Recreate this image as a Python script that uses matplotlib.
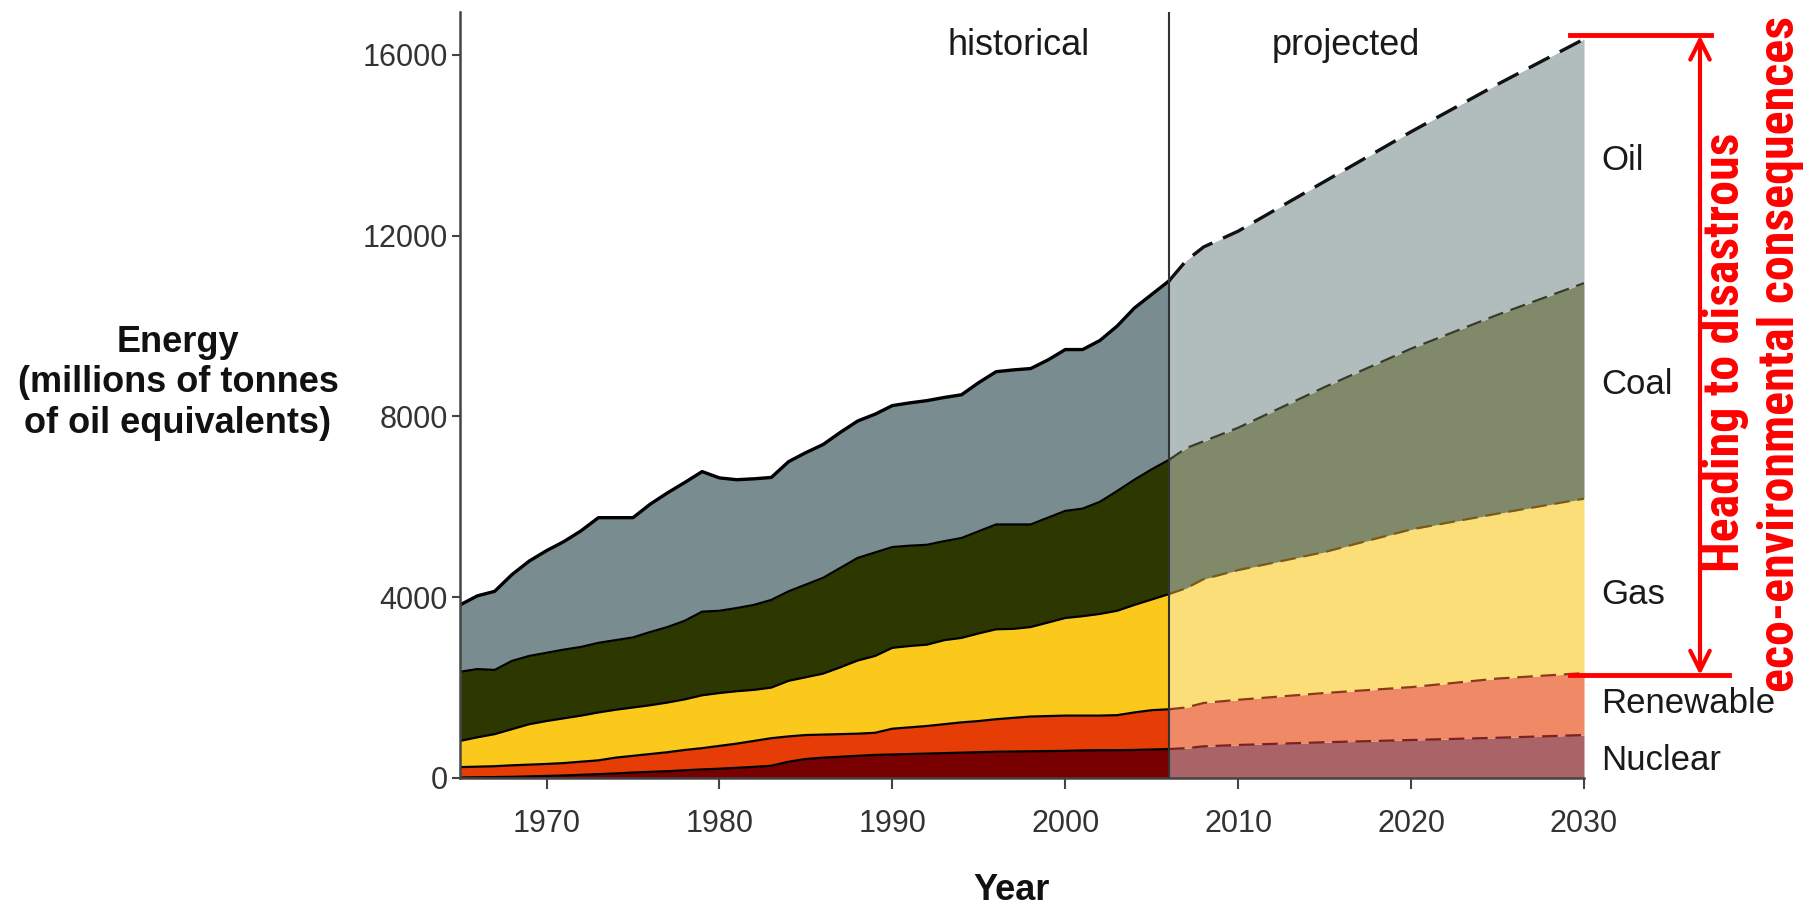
import numpy as np
import matplotlib
matplotlib.use("Agg")
from matplotlib import pyplot as plt
from matplotlib.lines import Line2D
import matplotlib.transforms as mtransforms

plt.rcParams['font.family'] = ['Liberation Sans', 'DejaVu Sans']

# historical data, cumulative tops of each layer (Mtoe)
years_hist = np.arange(1965, 2007)
nuclear_hist = [10, 15, 20, 25, 35, 45, 55, 70, 85, 100,
                120, 135, 150, 170, 190, 205, 225, 245, 270, 360,
                420, 450, 470, 490, 510, 520, 530, 540, 550, 560,
                570, 580, 585, 590, 595, 600, 610, 615, 615, 620,
                630, 640]
renew_top_hist = [240, 250, 260, 280, 295, 310, 330, 360, 390, 450,
                  490, 530, 570, 620, 660, 710, 760, 820, 880, 920,
                  950, 960, 970, 980, 1000, 1090, 1120, 1150, 1190, 1230,
                  1260, 1300, 1330, 1360, 1370, 1380, 1380, 1380, 1390, 1450,
                  1500, 1520]
gas_top_hist = [820, 900, 970, 1080, 1190, 1260, 1320, 1380, 1450, 1510,
                1560, 1610, 1670, 1740, 1830, 1880, 1920, 1950, 2000, 2150,
                2230, 2310, 2450, 2600, 2700, 2880, 2920, 2950, 3050, 3100,
                3200, 3290, 3300, 3340, 3440, 3540, 3580, 3630, 3700, 3830,
                3950, 4070]
coal_top_hist = [2350, 2410, 2390, 2590, 2700, 2770, 2840, 2900, 2990, 3050,
                 3110, 3230, 3340, 3480, 3680, 3700, 3760, 3830, 3940, 4130,
                 4280, 4430, 4650, 4870, 4990, 5110, 5140, 5160, 5240, 5310,
                 5460, 5610, 5610, 5610, 5760, 5910, 5960, 6110, 6350, 6600,
                 6830, 7040]
oil_top_hist = [3830, 4030, 4130, 4500, 4800, 5030, 5230, 5470, 5760, 5760,
                5760, 6060, 6310, 6540, 6780, 6640, 6600, 6620, 6650, 7000,
                7200, 7380, 7650, 7900, 8050, 8240, 8300, 8350, 8420, 8480,
                8750, 8990, 9030, 9060, 9250, 9480, 9480, 9680, 10000, 10400,
                10700, 11000]

# projection
years_proj = [2006, 2007, 2008, 2010, 2015, 2020, 2025, 2030]
nuclear_proj = [640, 660, 700, 730, 790, 840, 890, 950]
renew_top_proj = [1520, 1560, 1660, 1730, 1880, 2010, 2200, 2320]
gas_top_proj = [4070, 4200, 4400, 4600, 5000, 5500, 5850, 6180]
coal_top_proj = [7040, 7300, 7450, 7750, 8650, 9500, 10250, 10950]
oil_top_proj = [11000, 11450, 11750, 12100, 13200, 14300, 15350, 16350]

fuels = ['Nuclear', 'Renewable', 'Gas', 'Coal', 'Oil']
hist_colors = ['#780000', '#e63c05', '#fbc81c', '#2d3801', '#798c8f']
proj_colors = ['#aa6468', '#f08a66', '#fcde78', '#80896a', '#b1bcbd']
proj_edge = ['#7a2222', '#8a3a1a', '#7a5a18', '#3a3a2a', '#111111']
label_y = [380, 1640, 4050, 8700, 13660]

fig = plt.figure(figsize=(18.07, 9.08), dpi=100)
ax = fig.add_axes([0.2546, 0.1432, 0.6220, 0.8436])

h_bounds = [np.zeros(len(years_hist)), nuclear_hist, renew_top_hist,
            gas_top_hist, coal_top_hist, oil_top_hist]
p_bounds = [np.zeros(len(years_proj)), nuclear_proj, renew_top_proj,
            gas_top_proj, coal_top_proj, oil_top_proj]

for i in range(5):
    ax.fill_between(years_hist, h_bounds[i], h_bounds[i + 1],
                    color=hist_colors[i], lw=0)
    ax.plot(years_hist, h_bounds[i + 1], color='black',
            lw=2.4 if i == 4 else 1.6)
    ax.fill_between(years_proj, p_bounds[i], p_bounds[i + 1],
                    color=proj_colors[i], lw=0)
    ax.plot(years_proj, p_bounds[i + 1], color=proj_edge[i],
            lw=2.4 if i == 4 else 1.6, dashes=(7, 3.5))
    ax.text(2031, label_y[i], fuels[i], fontsize=25, color='#1a1a1a',
            va='center', ha='left', clip_on=False)

ax.axvline(2006, color='#333333', lw=1.5)

ax.text(1997.3, 16200, 'historical', fontsize=26, color='#1a1a1a',
        ha='center', va='center')
ax.text(2016.2, 16200, 'projected', fontsize=26, color='#1a1a1a',
        ha='center', va='center')

ax.set_xlim(1965, 2030)
ax.set_ylim(0, 16950)
ax.set_xticks([1970, 1980, 1990, 2000, 2010, 2020, 2030])
ax.set_yticks([0, 4000, 8000, 12000, 16000])
ax.tick_params(labelsize=22, labelcolor='#333333', color='#444444',
               width=1.5)
ax.tick_params(axis='x', length=8, pad=14)
ax.tick_params(axis='y', length=6, pad=3)
for s in ['top', 'right']:
    ax.spines[s].set_visible(False)
for s in ['left', 'bottom']:
    ax.spines[s].set_color('#444444')
    ax.spines[s].set_linewidth(1.8)

fig.text(178 / 1807, 1 - 383 / 908,
         'Energy\n(millions of tonnes\nof oil equivalents)',
         fontsize=26, fontweight='bold', ha='center', va='center',
         multialignment='center', color='#111111')
fig.text(1012 / 1807, 1 - 890 / 908, 'Year', fontsize=26,
         fontweight='bold', ha='center', va='center', color='#111111')

# red annotation
tr = mtransforms.blended_transform_factory(ax.transAxes, ax.transData)
ax.add_line(Line2D([0.9875, 1.1130], [16430, 16430], transform=tr,
                   color='red', lw=3.5, clip_on=False))
ax.add_line(Line2D([0.9875, 1.1290], [2280, 2280], transform=tr,
                   color='red', lw=3.5, clip_on=False))
ax.annotate('', xy=(1.1032, 16430), xytext=(1.1032, 2280),
            xycoords=tr, textcoords=tr, annotation_clip=False,
            arrowprops=dict(arrowstyle='<->', color='red', lw=3,
                            mutation_scale=35, shrinkA=0, shrinkB=0))
red_font = ['Liberation Sans Narrow', 'Roboto Condensed', 'DejaVu Sans']
ax.text(1.1263, 9420, 'Heading to disastrous', transform=tr, rotation=90,
        color='red', fontsize=36, fontweight='bold', ha='center',
        va='center', family=red_font, fontstretch='condensed')
ax.text(1.1745, 9380, 'eco-environmental consequences', transform=tr,
        rotation=90, color='red', fontsize=36, fontweight='bold',
        ha='center', va='center', family=red_font, fontstretch='condensed')

plt.savefig("out.png", dpi=100)
